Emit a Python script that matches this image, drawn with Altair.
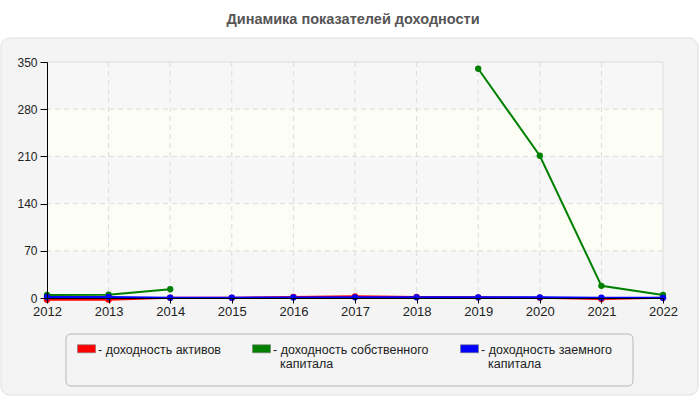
import altair as alt
import pandas as pd

years = [2012, 2013, 2014, 2015, 2016, 2017, 2018, 2019, 2020, 2021, 2022]
assets = [-2.5, -2.5, 0.5, 0.5, 1.5, 2.5, 1.5, 1.0, 0.5, -1.5, 0.3]
equity = [4.5, 5.0, 13.0, None, None, None, None, 340.0, 211.0, 18.0, 4.5]
borrowed = [1.5, 1.5, 0.5, 0.5, 0.8, 1.0, 1.0, 1.0, 1.0, 0.5, 0.3]

names = [
    "- доходность активов\n\u200b",
    "- доходность собственного\n\u200b\u00a0\u00a0капитала",
    "- доходность заемного\n\u200b\u00a0\u00a0капитала",
]
colors = ["#ff0000", "#008000", "#0000ff"]
widths = [2, 2, 3]
y_ticks = [0, 70, 140, 210, 280, 350]
title_text = "Динамика показателей доходности"

rows = []
for name, vals in zip(names, [assets, equity, borrowed]):
    seg = 0
    prev_null = False
    for yr, v in zip(years, vals):
        if v is None:
            prev_null = True
            continue
        if prev_null:
            seg += 1
            prev_null = False
        rows.append({"series": name, "year": yr, "value": v, "seg": f"{name}-{seg}"})
df = pd.DataFrame(rows)

W, H = 616, 236
xscale = alt.Scale(domain=[years[0], years[-1]], nice=False, zero=False)
yscale = alt.Scale(domain=[0, 350], nice=False)
cscale = alt.Scale(domain=names, range=colors)

one = pd.DataFrame({"a": [0]})
panel = alt.Chart(one).mark_rect(
    fill="#f4f4f4", stroke="#dedede", strokeWidth=1, cornerRadius=9
).encode(x=alt.value(-46), x2=alt.value(651), y=alt.value(-24), y2=alt.value(333))
legend_box = alt.Chart(one).mark_rect(
    fill="#f4f4f4", stroke="#b8b8b8", strokeWidth=1, cornerRadius=5
).encode(x=alt.value(19), x2=alt.value(586), y=alt.value(272), y2=alt.value(324))

hatch_lo = [0, 140, 280]
yellow_lo = [70, 210]
band_h = alt.Chart(pd.DataFrame({"lo": hatch_lo, "hi": [v + 70 for v in hatch_lo]})).mark_rect(
    fill="#f7f7f7"
).encode(x=alt.datum(years[0], scale=xscale), x2=alt.datum(years[-1]),
         y=alt.Y("lo:Q", scale=yscale), y2="hi:Q")
band_y = alt.Chart(pd.DataFrame({"lo": yellow_lo, "hi": [v + 70 for v in yellow_lo]})).mark_rect(
    fill="#fcfdf5"
).encode(x=alt.datum(years[0], scale=xscale), x2=alt.datum(years[-1]),
         y=alt.Y("lo:Q", scale=yscale), y2="hi:Q")

grid_y = alt.Chart(pd.DataFrame({"v": y_ticks[1:-1]})).mark_rule(
    color="#dcdcdc", strokeDash=[5, 4], strokeWidth=1
).encode(y=alt.Y("v:Q", scale=yscale))
grid_x = alt.Chart(pd.DataFrame({"v": years[1:-1]})).mark_rule(
    color="#dcdcdc", strokeDash=[5, 4], strokeWidth=1
).encode(x=alt.X("v:Q", scale=xscale))
border_top = alt.Chart(pd.DataFrame({"v": [y_ticks[-1]]})).mark_rule(
    color="#dddddd", strokeWidth=1
).encode(y=alt.Y("v:Q", scale=yscale))
border_right = alt.Chart(pd.DataFrame({"v": [years[-1]]})).mark_rule(
    color="#dddddd", strokeWidth=1
).encode(x=alt.X("v:Q", scale=xscale))

xaxis = alt.Axis(values=years, format="d", title=None, grid=False, tickSize=5,
                 labelPadding=2, labelFontSize=13, domainColor="#000", tickColor="#000",
                 labelColor="#222", zindex=1, labelFlush=False)
yaxis = alt.Axis(values=y_ticks, title=None, grid=False, tickSize=7, labelPadding=3,
                 labelFontSize=12, domainColor="#000", tickColor="#000",
                 labelColor="#222", zindex=1)

lines = alt.Chart(df).mark_line().encode(
    x=alt.X("year:Q", scale=xscale, axis=xaxis),
    y=alt.Y("value:Q", scale=yscale, axis=yaxis),
    color=alt.Color("series:N", scale=cscale, legend=None),
    strokeWidth=alt.StrokeWidth("series:N", scale=alt.Scale(domain=names, range=widths), legend=None),
    detail="seg:N",
)

points = alt.Chart(df).mark_point(filled=True, shape="circle", size=40, opacity=1).encode(
    x=alt.X("year:Q", scale=xscale),
    y=alt.Y("value:Q", scale=yscale),
    color=alt.Color(
        "series:N", scale=cscale,
        legend=alt.Legend(
            title=None, orient="none", legendX=19, legendY=271, columns=3,
            direction="horizontal",
            columnPadding=30, padding=11,
            symbolType="M-1,-1H1V-0.11H-1Z", symbolSize=324,
            symbolStrokeColor="#777", symbolStrokeWidth=0.6,
            labelFontSize=12.5, labelColor="#222", labelBaseline="alphabetic",
            labelOffset=2, labelLimit=300,
            labelExpr="split(datum.label, '\\n')",
        ),
    ),
)

chart = alt.layer(
    panel, legend_box, band_h, band_y, grid_y, grid_x, border_top, border_right, lines, points
).resolve_legend(color="independent").properties(
    width=W, height=H,
    autosize=alt.AutoSizeParams(type="none"),
    padding={"left": 47, "top": 62, "right": 37, "bottom": 102},
    title=alt.Title(title_text, fontSize=14.5, fontWeight="bold", color="#555555",
                    anchor="middle", offset=10, dx=-2),
).configure(
    font="Liberation Sans", background="white"
).configure_view(stroke=None)

chart.save("out.html", embed_options={"renderer": "svg", "actions": False})
